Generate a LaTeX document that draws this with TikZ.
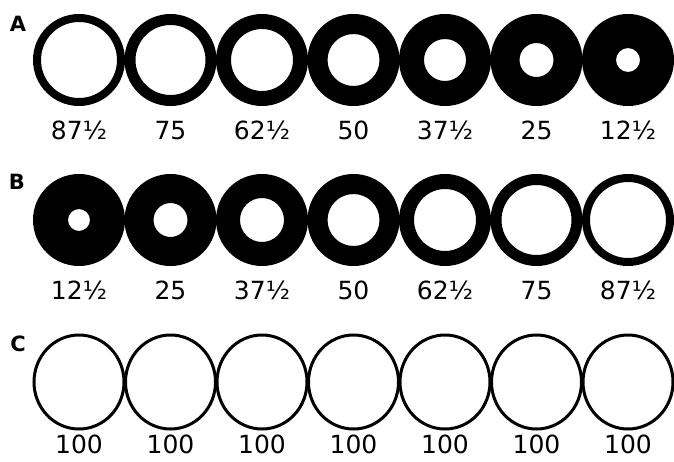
\documentclass[tikz,border=0pt]{standalone}
\usepackage{fontspec}
\setmainfont{DejaVu Sans}
\usepackage{tikz}
\usetikzlibrary{positioning}
\tikzset{
  pct/.style={font=\fontsize{25}{27}\selectfont, inner sep=0pt, anchor=base},
  rowtag/.style={font=\bfseries\fontsize{21}{22}\selectfont, inner sep=0pt},
}
% x, y, inner radius of the white hole
\newcommand{\ringcell}[3]{%
  \fill[black,even odd rule] (#1,#2) circle[radius=46] (#1,#2) circle[radius=#3];
}

\begin{document}
\begin{tikzpicture}[x=1pt,y=-1pt]
  \useasboundingbox (0,0) rectangle (674,461);
  % row A
  \node[rowtag] (tagA) at (18,24) {A};
  \foreach \i/\r/\t in {0/38/87½,1/35/75,2/31/62½,3/26/50,4/21/37½,5/17/25,6/12/12½} {
    \pgfmathsetmacro{\cx}{79+\i*91.5}
    \ringcell{\cx}{60}{\r}
    \node[pct] (la\i) at (\cx,139) {\t};
  }
  % row B
  \node[rowtag] (tagB) at (17,182) {B};
  \foreach \i/\r/\t in {0/11/12½,1/17/25,2/22/37½,3/26/50,4/31/62½,5/35/75,6/38/87½} {
    \pgfmathsetmacro{\cx}{79+\i*91.5}
    \ringcell{\cx}{220}{\r}
    \node[pct] (lb\i) at (\cx,299) {\t};
  }
  % row C
  \node[rowtag] (tagC) at (18,344) {C};
  \foreach \i in {0,...,6} {
    \pgfmathsetmacro{\cx}{79+\i*91.5}
    \draw[line width=3] (\cx,382) ellipse[x radius=45, y radius=47];
    \node[pct] (lc\i) at (\cx,453) {100};
  }
\end{tikzpicture}
\end{document}
